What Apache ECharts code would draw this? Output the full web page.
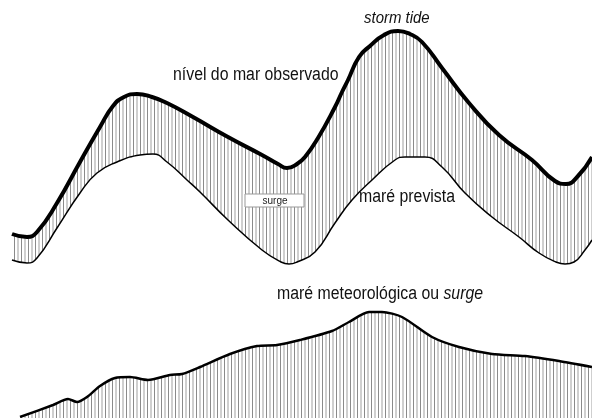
<!DOCTYPE html>
<html>
<head>
<meta charset="utf-8">
<script src="https://cdn.jsdelivr.net/npm/echarts@6/dist/echarts.min.js"></script>
<style>html,body{margin:0;padding:0;background:#fff;}#c{width:592px;height:418px;}</style>
</head>
<body>
<div id="c"></div>
<script>
// time (arbitrary units) and levels (arbitrary units)
const obsTime = [12,27,37,57,80,100,113,124,137,152,167,193,228,262,278,287,297,305,318,335,342,348,359,370,384,398,410,422,442,469,499,532,555,566,578,592];
const obsLevel = [46,43,48,77,118,153,174,183,186,183,177,163,143,125,116,112,116,123,142,173,188,200,223,234,245,249,246,238,212,177,145,120,99,96,104,123];
const predTime = [12,27,37,57,80,97,117,140,153,167,187,200,228,262,281,289,297,315,335,352,372,395,405,425,442,465,492,519,539,556,565,574,585,592];
const predLevel = [20,17,22,52,87,107,118,125,126,118,100,88,60,30,18,16,18,28,57,80,100,120,123,123,113,87,63,43,27,18,16,18,30,40];
const surgeTime = [20,53,68,77,87,100,115,130,148,170,182,200,230,257,277,300,332,349,369,382,402,432,459,492,525,559,592];
const surgeLevel = [1,13,19,16,21,32,40,41,38,43,44,51,64,72,73,78,87,96,106,106,101,81,71,64,62,57,51];

const labelObserved = 'nível do mar observado';
const labelStorm = 'storm tide';
const labelPredicted = 'maré prevista';
const labelSurgeBox = 'surge';
const labelMeteo = 'maré meteorológica ou ';
const labelMeteoItalic = 'surge';

function zip(a, b) { return a.map((v, i) => [v, b[i]]); }

// vertical hatching pattern
const pc = document.createElement('canvas');
pc.width = 7; pc.height = 8;
const pctx = pc.getContext('2d');
pctx.fillStyle = '#fff';
pctx.fillRect(0, 0, 7, 8);
pctx.fillStyle = '#8a8a8a';
pctx.fillRect(0, 0, 1, 8);
pctx.fillStyle = '#a0a0a0';
pctx.fillRect(3.5, 0, 1, 8);
const hatch = { image: pc, repeat: 'repeat' };

const chart = echarts.init(document.getElementById('c'), null, { renderer: 'canvas' });
const FONT = '"Liberation Sans", Arial, sans-serif';
const SX = 0.88;
function label(x, y, text, font, extra) {
  return Object.assign({ type: 'text', x: x, y: y, scaleX: SX, z: 10,
    style: { text: text, font: font, fill: '#111', align: 'left', verticalAlign: 'middle' } }, extra || {});
}
chart.setOption({
  animation: false,
  backgroundColor: '#fff',
  grid: [
    { left: 0, right: 0, top: 0, height: 280 },
    { left: 0, right: 0, top: 280, height: 138 }
  ],
  xAxis: [
    { type: 'value', gridIndex: 0, min: 0, max: 592, show: false },
    { type: 'value', gridIndex: 1, min: 0, max: 592, show: false }
  ],
  yAxis: [
    { type: 'value', gridIndex: 0, min: 0, max: 280, show: false },
    { type: 'value', gridIndex: 1, min: 0, max: 138, show: false }
  ],
  series: [
    {
      type: 'line', xAxisIndex: 0, yAxisIndex: 0, z: 2,
      data: zip(obsTime, obsLevel), smooth: 0.5, symbol: 'none',
      lineStyle: { color: '#000', width: 4 },
      areaStyle: { color: hatch, opacity: 1, origin: 'start' }
    },
    {
      type: 'line', xAxisIndex: 0, yAxisIndex: 0, z: 3,
      data: zip(predTime, predLevel), smooth: 0.5, symbol: 'none',
      lineStyle: { color: '#000', width: 1.5 },
      areaStyle: { color: '#fff', opacity: 1, origin: 'start' }
    },
    {
      type: 'line', xAxisIndex: 1, yAxisIndex: 1, z: 2,
      data: zip(surgeTime, surgeLevel), smooth: 0.25, symbol: 'none',
      lineStyle: { color: '#000', width: 2.5 },
      areaStyle: { color: hatch, opacity: 1, origin: 'start' }
    }
  ],
  graphic: [
    label(173, 75.5, labelObserved, '18px ' + FONT),
    label(364, 18.5, labelStorm, 'italic 17px ' + FONT),
    label(359, 197.5, labelPredicted, '18px ' + FONT),
    { type: 'rect', z: 10, shape: { x: 245, y: 194, width: 59, height: 13 },
      style: { fill: '#fff', stroke: '#999', lineWidth: 1 } },
    { type: 'text', z: 11, x: 275, y: 201,
      style: { text: labelSurgeBox, font: '10px ' + FONT, fill: '#222', align: 'center', verticalAlign: 'middle' } },
    { type: 'text', x: 277, y: 294, scaleX: SX, z: 10,
      style: { text: '{n|' + labelMeteo + '}{i|' + labelMeteoItalic + '}', align: 'left', verticalAlign: 'middle',
        rich: { n: { font: '18px ' + FONT, fill: '#111' }, i: { font: 'italic 18px ' + FONT, fill: '#111' } } } }
  ]
});
</script>
</body>
</html>
